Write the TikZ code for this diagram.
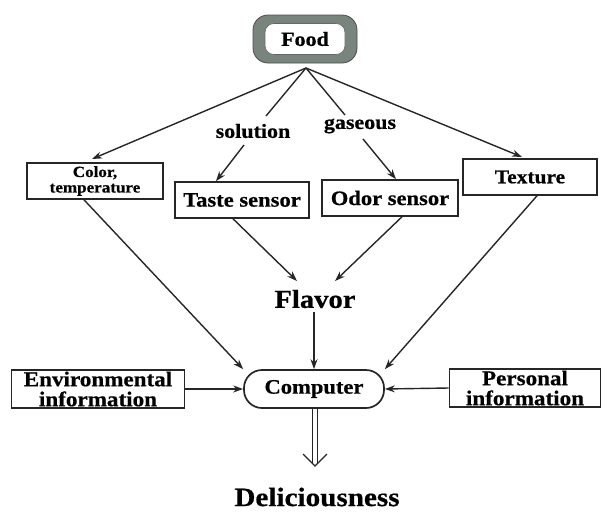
\documentclass[tikz,border=0pt]{standalone}
\usepackage{fontspec}
\setmainfont[FakeStretch=1.1, BoldFeatures={FakeBold=0.6}]{Liberation Serif}
\usetikzlibrary{arrows.meta}
\definecolor{foodgray}{RGB}{120,132,124}
\begin{document}
\begin{tikzpicture}[x=1pt,y=-1pt,
  every node/.style={font=\bfseries},
  box/.style={draw=black!85, line width=1.6pt, inner sep=1pt, align=center},
  arr/.style={draw=black!85, line width=1.4pt, -{Stealth[length=10pt,width=7pt]}},
  ln/.style={draw=black!85, line width=1.4pt},
  lbl/.style={font=\bfseries\fontsize{20}{20}\selectfont}]
\useasboundingbox (0,0) rectangle (606,512);
% Food
\node[fill=foodgray, draw=black!70, line width=0.8pt, rounded corners=15pt,
      minimum width=104pt, minimum height=48pt] (foodo) at (305,39) {};
\node[fill=white, draw=black!60, line width=0.6pt, rounded corners=9pt,
      minimum width=80pt, minimum height=31pt,
      font=\bfseries\fontsize{20}{20}\selectfont] (food) at (305,39) {Food};
\coordinate (fb) at (306,68);
% second row
\node[box, minimum width=136pt, minimum height=36pt, inner sep=0pt,
      font=\bfseries\fontsize{15.5}{15.5}\selectfont] (color) at (95,181) {Color,\\temperature};
\node[box, minimum width=134pt, minimum height=36pt,
      font=\bfseries\fontsize{20.5}{20.5}\selectfont] (taste) at (242,200) {Taste sensor};
\node[box, minimum width=136pt, minimum height=36pt,
      font=\bfseries\fontsize{20.5}{20.5}\selectfont] (odor) at (390,198) {Odor sensor};
\node[box, minimum width=134pt, minimum height=36pt,
      font=\bfseries\fontsize{19.5}{19.5}\selectfont] (texture) at (530,177) {Texture};
\node[lbl] (sol) at (253,131) {solution};
\node[lbl] (gas) at (360,126) {gaseous};
\coordinate (solt) at (266,116);
\coordinate (gast) at (345,115);
\coordinate (solb) at (244,145);
\coordinate (gasb) at (363,139);
% flavor
\node[font=\bfseries\fontsize{26}{26}\selectfont] (flavor) at (315,299) {Flavor};
\coordinate (fl1) at (297,281);
\coordinate (fl2) at (335,281);
% bottom row
\node[box, minimum width=173pt, minimum height=38pt, inner sep=0pt,
      font=\bfseries\fontsize{21}{20}\selectfont] (env) at (98,389) {Environmental\\information};
\node[draw=black!85, line width=1.7pt, rounded corners=18pt,
      minimum width=140pt, minimum height=38pt,
      font=\bfseries\fontsize{20.5}{20.5}\selectfont] (comp) at (314,389) {Computer};
\node[box, minimum width=151pt, minimum height=38pt, inner sep=0pt,
      font=\bfseries\fontsize{21}{20}\selectfont] (pers) at (525,388) {Personal\\information};
\node[font=\bfseries\fontsize{26.5}{26.5}\selectfont] (del) at (317,497) {Deliciousness};
% connectors from food
\draw[arr] (fb) -- (92,159);
\draw[ln] (fb) -- (solt);
\draw[ln] (fb) -- (gast);
\draw[arr] (fb) -- (522,157);
\draw[arr] (solb) -- (taste.north -| 216,0);
\draw[arr] (gasb) -- (odor.north -| 396,0);
% to flavor
\draw[arr] (taste.south -| 233,0) -- (fl1);
\draw[arr] (odor.south -| 402,0) -- (fl2);
% to computer
\draw[arr] (color.south -| 84,0) -- (comp.north west);
\draw[arr] (flavor.south -| comp.north) -- (comp.north);
\draw[arr] (texture.south -| 537,0) -- (comp.north east);
\draw[arr] (env.east) -- (comp.west);
\draw[arr] (pers.west) -- (comp.east);
% double arrow
\coordinate (dtip) at (315,466);
\draw[ln, line width=1.1pt] (312.5,408) -- (312.5,463) (317.5,408) -- (317.5,463);
\draw[ln, line width=1.3pt] (303,454) -- (dtip) -- (327,454);
\end{tikzpicture}
\end{document}
